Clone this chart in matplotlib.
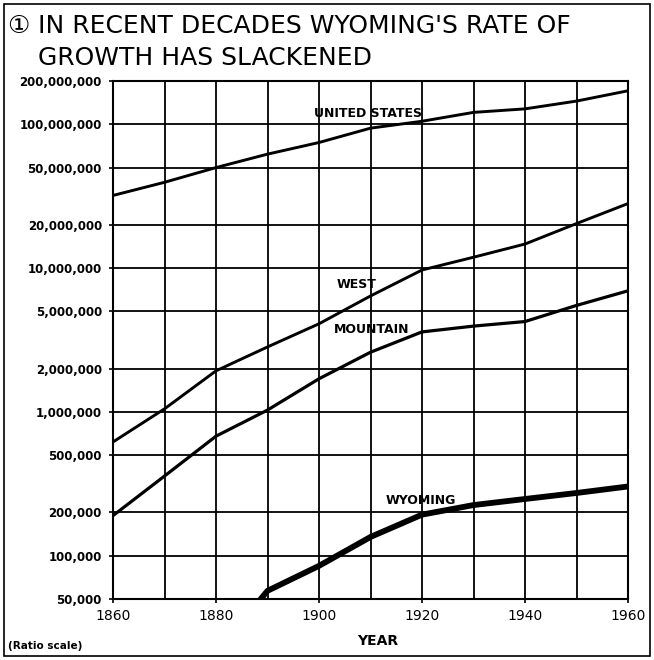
import matplotlib
matplotlib.use("Agg")
import matplotlib.pyplot as plt
from matplotlib.patches import Rectangle
from matplotlib.ticker import FixedLocator, FixedFormatter, NullLocator, MultipleLocator

# ---- data ----
years = [1860, 1870, 1880, 1890, 1900, 1910, 1920, 1930, 1940, 1950, 1960]
united_states = [32.0e6, 39.5e6, 50.0e6, 62.0e6, 74.7e6, 94.0e6, 105.0e6, 121.0e6, 128.0e6, 145.0e6, 171.0e6]
west = [0.618e6, 1.05e6, 1.93e6, 2.83e6, 4.1e6, 6.4e6, 9.7e6, 11.9e6, 14.7e6, 20.4e6, 28.1e6]
mountain = [0.19e6, 0.358e6, 0.678e6, 1.03e6, 1.7e6, 2.6e6, 3.6e6, 3.95e6, 4.25e6, 5.5e6, 6.95e6]
wyoming_years = [1880, 1890, 1900, 1910, 1920, 1930, 1940, 1950, 1960]
wyoming = [21e3, 57e3, 85e3, 135e3, 193e3, 225e3, 248e3, 273e3, 303e3]

y_ticks = [5e4, 1e5, 2e5, 5e5, 1e6, 2e6, 5e6, 1e7, 2e7, 5e7, 1e8, 2e8]
y_tick_labels = [f"{int(v):,}" for v in y_ticks]
x_ticks = [1860, 1880, 1900, 1920, 1940, 1960]
x_tick_labels = [str(v) for v in x_ticks]

W, H = 654, 660
fig = plt.figure(figsize=(W / 100, H / 100), dpi=100)
fig.patch.set_facecolor("white")

left, right, top, bottom = 113, 628, 81, 599
ax = fig.add_axes([left / W, 1 - bottom / H, (right - left) / W, (bottom - top) / H])

ax.set_yscale("log")
ax.set_xlim(1860, 1960)
ax.set_ylim(5e4, 2e8)

ax.plot(years, united_states, color="black", lw=2.1, solid_capstyle="round")
ax.plot(years, west, color="black", lw=2.1, solid_capstyle="round")
ax.plot(years, mountain, color="black", lw=2.3, solid_capstyle="round")
ax.plot(wyoming_years, wyoming, color="black", lw=4.2, solid_capstyle="round")

ax.yaxis.set_major_locator(FixedLocator(y_ticks))
ax.yaxis.set_major_formatter(FixedFormatter(y_tick_labels))
ax.yaxis.set_minor_locator(NullLocator())
ax.xaxis.set_major_locator(FixedLocator(x_ticks))
ax.xaxis.set_major_formatter(FixedFormatter(x_tick_labels))
ax.xaxis.set_minor_locator(MultipleLocator(10))

ax.grid(True, which="both", axis="x", color="black", lw=1.3)
ax.grid(True, which="major", axis="y", color="black", lw=1.3)
ax.set_axisbelow(True)
for s in ax.spines.values():
    s.set_linewidth(1.5)

ax.tick_params(axis="both", which="minor", length=0)
ax.tick_params(axis="both", which="major", length=3, width=1.2, direction="out")
ax.tick_params(axis="y", pad=5, labelsize=8.5)
ax.tick_params(axis="x", pad=4, labelsize=10)
for lab in ax.get_yticklabels():
    lab.set_fontweight("bold")

# series labels
ax.text(1909.6, 1.18e8, "UNITED STATES", ha="center", va="center", fontsize=9, fontweight="bold")
ax.text(1907.2, 7.7e6, "WEST", ha="center", va="center", fontsize=9, fontweight="bold")
ax.text(1910.2, 3.76e6, "MOUNTAIN", ha="center", va="center", fontsize=9, fontweight="bold")
ax.text(1919.8, 2.41e5, "WYOMING", ha="center", va="center", fontsize=9, fontweight="heavy")

# axis title and note
fig.text(378 / W, 1 - 641 / H, "YEAR", ha="center", va="center", fontsize=10, fontweight="bold")
fig.text(8 / W, 1 - 646 / H, "(Ratio scale)", ha="left", va="center", fontsize=7.5, fontweight="bold")

# title
title_family = ["DejaVu Sans", "Noto Sans CJK JP"]
fig.text(7 / W, 1 - 33 / H, "\u2460", ha="left", va="baseline", fontsize=18, family=title_family)
fig.text(38 / W, 1 - 33 / H, "IN RECENT DECADES WYOMING'S RATE OF", ha="left", va="baseline",
         fontsize=18, family=title_family)
fig.text(38 / W, 1 - 65 / H, "GROWTH HAS SLACKENED", ha="left", va="baseline",
         fontsize=18, family=title_family)

# outer border
fig.patches.append(Rectangle((4 / W, 4 / H), 646 / W, 652 / H, transform=fig.transFigure,
                             fill=False, lw=1.2, ec="black"))

fig.savefig("out.png", dpi=100)
